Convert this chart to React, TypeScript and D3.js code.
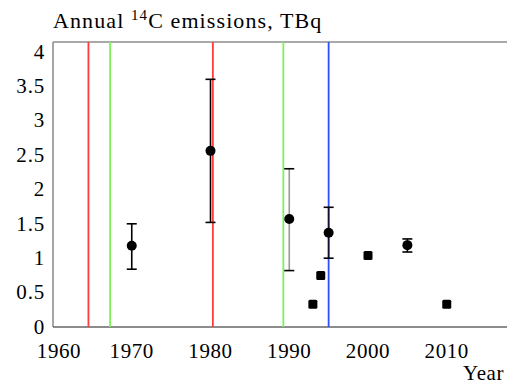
import React from 'react'
import * as d3 from 'd3'

// measured points: year, value, error low/high (null = no bar)
const years = [1970, 1980, 1990, 1993, 1994, 1995, 2000, 2005, 2010]
const values = [1.18, 2.56, 1.57, 0.33, 0.75, 1.37, 1.04, 1.19, 0.33]
const errLow = [0.84, 1.52, 0.82, null, null, 1.0, null, 1.09, null]
const errHigh = [1.5, 3.6, 2.3, null, null, 1.74, null, 1.28, null]
const markers = ['circle', 'circle', 'circle', 'square', 'square', 'circle', 'square', 'circle', 'square']
const barColors = ['#000', '#000', '#999', null, null, '#111133', null, '#000', null]

// vertical event lines
const eventYears = [1964.5, 1967.25, 1980.3, 1989.25, 1995]
const eventColors = ['#ff3b3b', '#7ff05a', '#ff3b3b', '#7ff05a', '#2f4fff']

const xTicks = [1960, 1970, 1980, 1990, 2000, 2010]
const yTicks = [0, 0.5, 1, 1.5, 2, 2.5, 3, 3.5, 4]

const serif = { fontFamily: "'Liberation Serif', 'Times New Roman', serif" }

export default function App() {
  const width = 507
  const height = 384
  const margin = { top: 42, right: 0, bottom: 57, left: 53 }

  const x = d3.scaleLinear()
    .domain([1960, 2017.65])
    .range([margin.left, width - margin.right])

  const y = d3.scaleLinear()
    .domain([0, 4])
    .range([height - margin.bottom, 51.8])

  const bottom = height - margin.bottom

  return (
    <svg width={width} height={height} style={{ position: 'absolute', left: 0, top: 0 }}>
      <rect width={width} height={height} fill="#fff" />

      <text x={53} y={28} fontSize={22} letterSpacing={1.1} fill="#000" style={serif}>
        Annual <tspan fontSize={15} dy={-8}>14</tspan><tspan dy={8}>C emissions, TBq</tspan>
      </text>

      {/* frame */}
      <line x1={margin.left} x2={width} y1={margin.top} y2={margin.top} stroke="#555" strokeWidth={1.2} />
      <line x1={margin.left} x2={margin.left} y1={margin.top} y2={bottom} stroke="#888" strokeWidth={1.5} />
      <line x1={margin.left} x2={width} y1={bottom} y2={bottom} stroke="#666" strokeWidth={1.5} />

      {eventYears.map((yr, i) => (
        <line key={'e' + i} x1={x(yr)} x2={x(yr)} y1={margin.top} y2={bottom}
          stroke={eventColors[i]} strokeWidth={1.8} />
      ))}

      {yTicks.map(t => (
        <text key={'y' + t} x={45} y={y(t)} dy="0.32em" textAnchor="end" fontSize={21} letterSpacing={0.8} style={serif}>{t}</text>
      ))}

      {xTicks.map(t => (
        <text key={'x' + t} x={x(t) + (t === 1960 ? 6 : 0)} y={358} textAnchor="middle" fontSize={21} letterSpacing={0.6} style={serif}>{t}</text>
      ))}
      <text x={463} y={380} fontSize={21} letterSpacing={0.6} style={serif}>Year</text>

      {years.map((yr, i) => {
        const cx = x(yr)
        const cy = y(values[i])
        const lo = errLow[i]
        const hi = errHigh[i]
        return (
          <g key={'p' + yr}>
            {lo != null && hi != null && (
              <g>
                <line x1={cx} x2={cx} y1={y(lo)} y2={y(hi)} stroke={barColors[i]} strokeWidth={1.6} />
                <line x1={cx - 5} x2={cx + 5} y1={y(lo)} y2={y(lo)} stroke="#000" strokeWidth={1.6} />
                <line x1={cx - 5} x2={cx + 5} y1={y(hi)} y2={y(hi)} stroke="#000" strokeWidth={1.6} />
              </g>
            )}
            {markers[i] === 'circle'
              ? <circle cx={cx} cy={cy} r={5} fill="#000" />
              : <rect x={cx - 4.5} y={cy - 4.5} width={9} height={9} rx={1.5} fill="#000" />}
          </g>
        )
      })}
    </svg>
  )
}
